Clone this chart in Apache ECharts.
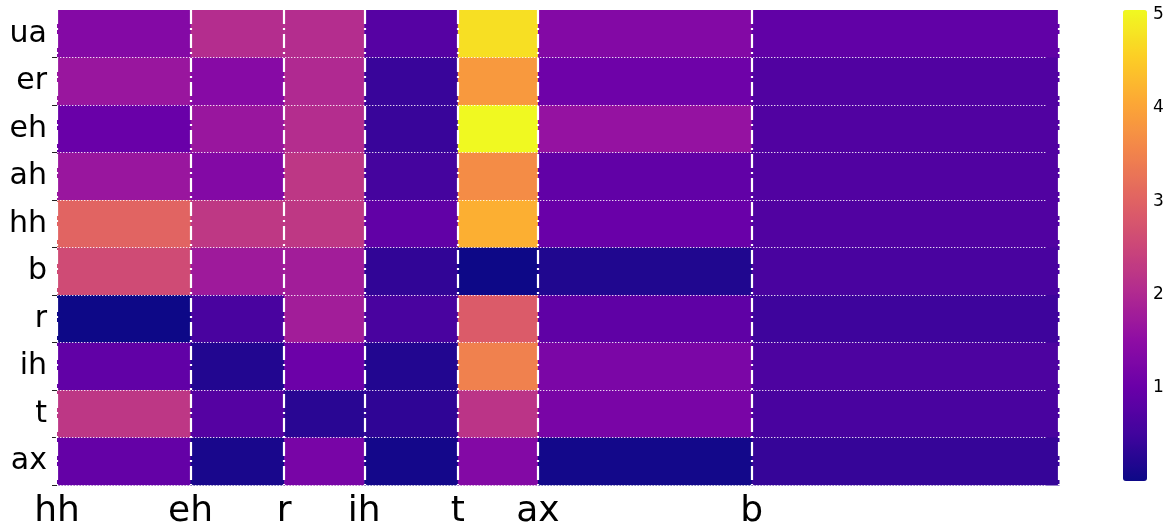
<!DOCTYPE html>
<html>
<head>
<meta charset="utf-8">
<script src="https://cdn.jsdelivr.net/npm/echarts@6/dist/echarts.min.js"></script>
<style>html,body{margin:0;padding:0;background:#fff;}#c{width:1171px;height:528px;}</style>
</head>
<body>
<div id="c"></div>
<script>
// Rows (top to bottom)
const rowLabels = ['ua','er','eh','ah','hh','b','r','ih','t','ax'];
// Phone segments along the frame axis
const segLabels = ['hh','eh','r','ih','t','ax','b'];
const segBounds = [0, 10, 17, 23, 30, 36, 52, 75];
const frameTicks = 74;
// Cell values per row, one value per segment (hh, eh, r, ih, t, ax, b)
const rowUa = [1.37, 2.07, 2.07, 0.76, 4.75, 1.35, 0.90];
const rowEr = [1.67, 1.40, 2.00, 0.43, 3.85, 1.07, 0.70];
const rowEh = [1.00, 1.67, 2.07, 0.43, 5.05, 1.60, 0.70];
const rowAh = [1.67, 1.35, 2.25, 0.55, 3.65, 0.90, 0.70];
const rowHh = [3.03, 2.27, 2.27, 0.90, 4.15, 1.00, 0.70];
const rowB  = [2.60, 1.74, 1.80, 0.35, 0.00, 0.18, 0.60];
const rowR  = [0.00, 0.60, 1.80, 0.60, 2.88, 0.88, 0.48];
const rowIh = [0.90, 0.20, 1.04, 0.20, 3.48, 1.24, 0.65];
const rowT  = [2.25, 0.75, 0.27, 0.33, 2.20, 1.22, 0.60];
const rowAx = [0.93, 0.12, 1.20, 0.07, 1.35, 0.06, 0.40];
const colorTicks = [1, 2, 3, 4, 5];
const valueMin = 0, valueMax = 5.05;

const rows = [rowUa, rowEr, rowEh, rowAh, rowHh, rowB, rowR, rowIh, rowT, rowAx];
const plasma = ['#0d0887','#41049d','#6a00a8','#8f0da4','#b12a90','#cc4778','#e16462','#f2844b','#fca636','#fcce25','#f0f921'];

const cells = [];
rows.forEach((vals, r) => {
  vals.forEach((v, s) => cells.push([segBounds[s], segBounds[s + 1], r, v]));
});

const tickVals = [];
for (let i = 0; i <= frameTicks; i++) tickVals.push(i);
const rowTickVals = rowLabels.map((_, i) => i + 1);
const rowLabelVals = rowLabels.map((_, i) => i + 0.5);

const vLines = segBounds.map(b => ({
  xAxis: b,
  lineStyle: {color: '#ffffff', width: 2.2, type: [14, 4, 2, 4], opacity: 1}
}));
const hLines = rowLabels.map((_, i) => [
  {coord: [0, i + 1], lineStyle: {color: 'rgba(255,255,255,0.85)', width: 1, type: [1.4, 1.6]}},
  {coord: [frameTicks, i + 1]}
]);

const chart = echarts.init(document.getElementById('c'), null, {renderer: 'canvas'});
chart.setOption({
  animation: false,
  backgroundColor: '#ffffff',
  grid: [
    {left: 57, top: 10, width: 1002, height: 475, outerBoundsMode: 'none', containLabel: false},
    {left: 1123, top: 10, width: 24, height: 471, outerBoundsMode: 'none', containLabel: false}
  ],
  xAxis: [
    {
      type: 'value', gridIndex: 0, min: 0, max: segBounds[segBounds.length - 1],
      axisLine: {show: false}, splitLine: {show: false},
      axisTick: {show: true, customValues: tickVals, length: 4, lineStyle: {color: '#222', width: 1}},
      axisLabel: {
        customValues: segBounds.slice(0, segLabels.length),
        formatter: v => { const i = segBounds.indexOf(v); return i >= 0 && i < segLabels.length ? segLabels[i] : ''; },
        fontFamily: 'DejaVu Sans', fontSize: 36, color: '#000', margin: 9
      }
    },
    {type: 'value', gridIndex: 1, min: 0, max: 1, show: false}
  ],
  yAxis: [
    {
      type: 'value', gridIndex: 0, min: 0, max: rowLabels.length, inverse: true,
      axisLine: {show: false}, splitLine: {show: false},
      axisTick: {show: true, customValues: rowTickVals, length: 5, lineStyle: {color: '#222', width: 1}},
      axisLabel: {
        customValues: rowLabelVals,
        formatter: v => rowLabels[Math.floor(v)] || '',
        fontFamily: 'DejaVu Sans', fontSize: 30, color: '#000', margin: 10
      }
    },
    {
      type: 'value', gridIndex: 1, position: 'right', min: valueMin, max: valueMax,
      axisLine: {show: false}, splitLine: {show: false},
      axisTick: {show: true, customValues: colorTicks, length: 4, lineStyle: {color: '#222', width: 1}},
      axisLabel: {customValues: colorTicks, fontFamily: 'DejaVu Sans', fontSize: 17, color: '#000', margin: 6}
    }
  ],
  visualMap: {
    type: 'continuous', min: valueMin, max: valueMax, dimension: 3, seriesIndex: 0,
    left: 1123, top: 10, itemWidth: 24, itemHeight: 471, padding: 0,
    calculable: false, text: null, orient: 'vertical',
    inRange: {color: plasma}
  },
  series: [
    {
      type: 'custom', xAxisIndex: 0, yAxisIndex: 0,
      encode: {x: [0, 1], y: 2},
      data: cells,
      renderItem: function (params, api) {
        const p0 = api.coord([api.value(0), api.value(2)]);
        const p1 = api.coord([api.value(1), api.value(2) + 1]);
        return {
          type: 'rect',
          shape: {x: p0[0], y: Math.min(p0[1], p1[1]), width: p1[0] - p0[0] + 0.5, height: Math.abs(p1[1] - p0[1]) + 0.5},
          style: {fill: api.visual('color')}
        };
      },
      markLine: {
        silent: true, symbol: ['none', 'none'], label: {show: false}, animation: false,
        data: vLines.concat(hLines)
      }
    },
    {type: 'line', xAxisIndex: 1, yAxisIndex: 1, data: [], silent: true}
  ]
});
</script>
</body>
</html>
